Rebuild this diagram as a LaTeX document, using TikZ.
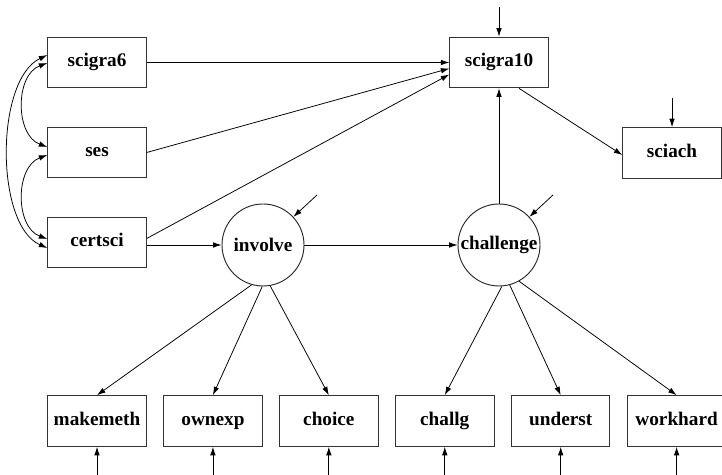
\documentclass[tikz,border=0pt]{standalone}
\usepackage{fontspec}
\setmainfont{Liberation Serif}
\usetikzlibrary{arrows.meta,calc,positioning}
\tikzset{
  obs/.style={
    draw=black!80,
    line width=.6pt,
    minimum width=64pt,
    minimum height=33pt,
    inner sep=1pt,
    text height=8pt,
    text depth=2.5pt,
    font=\fontsize{12.5}{15}\selectfont\bfseries
  },
  lat/.style={
    circle,
    draw=black!85,
    line width=.6pt,
    minimum size=53.3pt,
    inner sep=-12pt,
    font=\fontsize{12.5}{15}\selectfont\bfseries
  },
  regr/.style={
    -{Latex[length=5.5pt,width=3.6pt]},
    line width=.5pt
  },
  covar/.style={
    {Latex[length=5.5pt,width=3.6pt]}-{Latex[length=5.5pt,width=3.6pt]},
    line width=.5pt
  }
}

\begin{document}
\begin{tikzpicture}[x=.65pt,y=-.65pt]
\useasboundingbox (0,0) rectangle (722,475);
% exogenous
\node[obs] (scigra6) at (97,62.5) {scigra6};
\node[obs] (ses) at (97,152.5) {ses};
\node[obs] (certsci) at (97,242.5) {certsci};
% outcomes
\node[obs] (scigra10) at (499,62.5) {scigra10};
\node[obs] (sciach) at (672,153) {sciach};
% latent
\node[lat] (involve) at (263,245) {involve};
\node[lat] (challenge) at (499,245) {challenge};
% indicators
\node[obs] (makemeth) at (97,421) {makemeth};
\node[obs, right=10.75pt of makemeth] (ownexp) {ownexp};
\node[obs, right=10.75pt of ownexp] (choice) {choice};
\node[obs, right=10.75pt of choice] (challg) {challg};
\node[obs, right=10.75pt of challg] (underst) {underst};
\node[obs, right=10.75pt of underst] (workhard) {workhard};
% disturbances
\coordinate (d10) at (499,7);
\coordinate (dach) at (672,98);
\coordinate (dinv) at (317,195);
\coordinate (dcha) at (553,195);
\draw[regr] (d10) -- (scigra10);
\draw[regr] (dach) -- (sciach);
\draw[regr] (dinv) -- (involve);
\draw[regr] (dcha) -- (challenge);
\foreach \n in {makemeth,ownexp,choice,challg,underst,workhard}
  \draw[regr] (\n.south |- 0,475) -- (\n.south);
% paths
\draw[regr] (scigra6) -- (scigra10);
\draw[regr] (ses.east) -- ($(scigra10.west)+(0,6)$);
\draw[regr] ($(certsci.east)+(0,-4)$) -- ($(scigra10.west)+(0,12)$);
\draw[regr] (certsci.east |- involve) -- (involve);
\draw[regr] (involve) -- (challenge);
\draw[regr] (challenge) -- (scigra10);
\draw[regr] ($(scigra10.south)+(20,0)$) -- ($(sciach.west)+(0,2)$);
% loadings
\draw[regr] (involve.254) -- (makemeth.north);
\draw[regr] (involve.269) -- (ownexp.north);
\draw[regr] (involve.280) -- (choice.north);
\draw[regr] (challenge.274) -- (challg.north);
\draw[regr] (challenge.285) -- (underst.north);
\draw[regr] (challenge.299) -- (workhard.north);
% covariances
\draw[covar] ($(scigra6.west)+(0,.5)$) .. controls (15,75) and (15,135) .. ($(ses.west)+(0,-5.5)$);
\draw[covar] ($(ses.west)+(0,2.5)$) .. controls (15,167) and (15,227) .. ($(certsci.west)+(0,-3.5)$);
\draw[covar] ($(scigra6.west)+(0,-7.5)$) .. controls (-5,80) and (-5,225) .. ($(certsci.west)+(0,5.5)$);
\end{tikzpicture}
\end{document}
